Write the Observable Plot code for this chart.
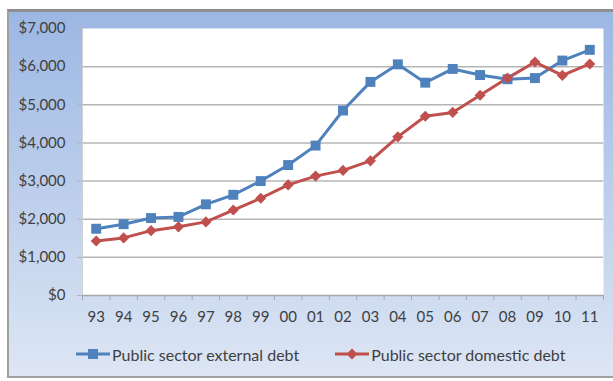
<!DOCTYPE html>
<html>
<head>
<meta charset="utf-8">
<script src="https://cdn.jsdelivr.net/npm/d3@7"></script>
<script src="https://cdn.jsdelivr.net/npm/@observablehq/plot@0.6"></script>
<style>
  html, body { margin: 0; padding: 0; background: #ffffff; overflow: hidden; }
  #wrap {
    position: absolute; left: 7px; top: 9px;
    width: 604px; height: 364px;
    border-top: 3px solid #8e8e8e; border-left: 2px solid #a0a0a0; border-bottom: 2px solid #a0a0a0;
    background: linear-gradient(to bottom, #9cb7e3 0%, #b9cceb 45%, #dde6f4 100%);
  }
  #legend {
    display: flex; align-items: center; height: 44px; padding-left: 67px;
    font-family: Lato, sans-serif; font-size: 16px; color: #404040;
  }
  #legend .item { display: flex; align-items: center; }
  #legend .item + .item { margin-left: 36px; }
  #legend svg { margin-right: 2px; }
</style>
</head>
<body>
<div id="wrap">
  <div id="chart"></div>
  <div id="legend"></div>
</div>
<script>
const years = ["93","94","95","96","97","98","99","00","01","02","03","04","05","06","07","08","09","10","11"];
const externalDebt = [1750,1870,2030,2060,2390,2640,3000,3420,3930,4850,5600,6060,5580,5940,5780,5670,5700,6160,6440];
const domesticDebt = [1430,1510,1700,1800,1930,2240,2550,2900,3130,3280,3530,4160,4700,4800,5250,5700,6120,5770,6070];
const seriesNames = ["Public sector external debt", "Public sector domestic debt"];
const seriesColors = ["#4f81bd", "#c0504d"];
const yTicks = [0,1000,2000,3000,4000,5000,6000,7000];

const rows = years.map((y, i) => ({i, year: y, ext: externalDebt[i], dom: domesticDebt[i]}));
const centers = rows.map(d => d.i + 0.5);
const bounds = d3.range(years.length + 1);

const chart = Plot.plot({
  width: 604, height: 320,
  marginLeft: 73, marginRight: 10, marginTop: 16, marginBottom: 37,
  style: {background: "transparent", fontFamily: "Lato, sans-serif", fontSize: "15px", color: "#404040", overflow: "visible"},
  x: {domain: [0, years.length], axis: null},
  y: {domain: [0, 7000], axis: null},
  marks: [
    Plot.frame({fill: "white", stroke: null}),
    Plot.ruleY(yTicks.filter(d => d > 0 && d < 7000), {stroke: "#b5b5b5", strokeWidth: 1.5}),
    Plot.axisY({ticks: yTicks, tickSize: 5, tickPadding: 12, stroke: "#b5b5b5", fill: "#404040",
      tickFormat: d => "$" + d3.format(",")(d)}),
    Plot.ruleX([0], {stroke: "#d0d0d0"}),
    Plot.ruleY([0], {stroke: "#a8a8a8", strokeWidth: 1.5}),
    Plot.axisX({ticks: bounds, tickSize: 5, stroke: "#a8a8a8", tickFormat: () => ""}),
    Plot.axisX({ticks: centers, tickSize: 0, tickPadding: 16, fill: "#404040",
      tickFormat: d => years[Math.floor(d)]}),
    Plot.line(rows, {x: d => d.i + 0.5, y: "ext", stroke: seriesColors[0], strokeWidth: 3}),
    Plot.line(rows, {x: d => d.i + 0.5, y: "dom", stroke: seriesColors[1], strokeWidth: 3}),
    Plot.dot(rows, {x: d => d.i + 0.5, y: "ext", symbol: "square", r: 5.6, fill: seriesColors[0], stroke: null}),
    Plot.dot(rows, {x: d => d.i + 0.5, y: "dom", symbol: "diamond2", r: 5, fill: seriesColors[1], stroke: null})
  ]
});
document.getElementById("chart").appendChild(chart);

const legend = document.getElementById("legend");
seriesNames.forEach((name, k) => {
  const item = document.createElement("span");
  item.className = "item";
  const marker = k === 0
    ? `<rect x="12" y="1" width="10" height="10" fill="${seriesColors[k]}"/>`
    : `<path d="M17,0.5 L22.5,6 L17,11.5 L11.5,6 Z" fill="${seriesColors[k]}"/>`;
  item.innerHTML = `<svg width="34" height="12"><line x1="0" y1="6" x2="34" y2="6" stroke="${seriesColors[k]}" stroke-width="3"/>${marker}</svg><span>${name}</span>`;
  legend.appendChild(item);
});
</script>
</body>
</html>
